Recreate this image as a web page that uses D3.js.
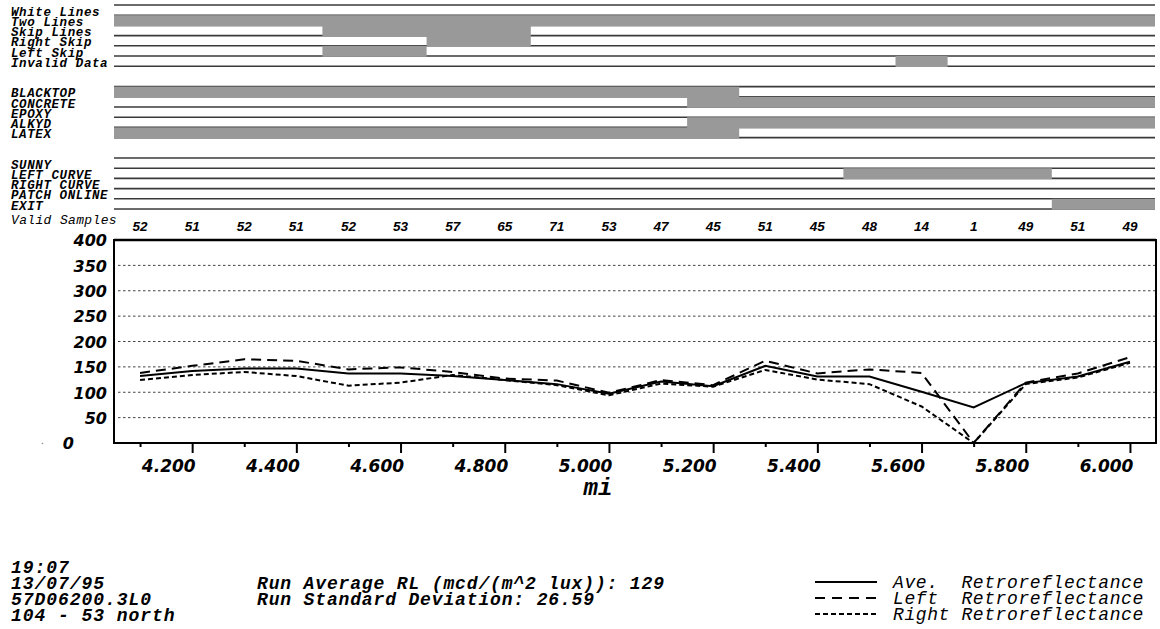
<!DOCTYPE html>
<html>
<head>
<meta charset="utf-8">
<script src="https://cdn.jsdelivr.net/npm/d3@7"></script>
<style>
html, body { margin: 0; padding: 0; background: #fff; }
svg { display: block; }
</style>
</head>
<body>
<div id="chart"></div>
<script>
// ---------- data ----------
const miles = [4.1, 4.2, 4.3, 4.4, 4.5, 4.6, 4.7, 4.8, 4.9, 5.0,
               5.1, 5.2, 5.3, 5.4, 5.5, 5.6, 5.7, 5.8, 5.9, 6.0];
const validSamples = [52, 51, 52, 51, 52, 53, 57, 65, 71, 53, 47, 45, 51, 45, 48, 14, 1, 49, 51, 49];
const aveRL   = [132, 142, 147, 147, 137, 137, 132, 124, 116, 97, 121, 112, 152, 131, 131, 101, 70, 118, 131, 160];
const leftRL  = [138, 152, 165, 162, 145, 149, 140, 127, 123, 99, 124, 114, 162, 137, 145, 138, 0, 119, 137, 169];
const rightRL = [124, 134, 140, 132, 113, 119, 134, 124, 114, 94, 117, 111, 144, 125, 116, 72, 0, 116, 129, 158];

const yTicks = [0, 50, 100, 150, 200, 250, 300, 350, 400];
const xMajorTicks = [4.2, 4.4, 4.6, 4.8, 5.0, 5.2, 5.4, 5.6, 5.8, 6.0];
const xMinorTicks = [4.1, 4.3, 4.5, 4.7, 4.9, 5.1, 5.3, 5.5, 5.7, 5.9];

const lineRows = ["White Lines", "Two Lines", "Skip Lines", "Right Skip", "Left Skip", "Invalid Data"];
const surfaceRows = ["BLACKTOP", "CONCRETE", "EPOXY", "ALKYD", "LATEX"];
const conditionRows = ["SUNNY", "LEFT CURVE", "RIGHT CURVE", "PATCH ONLINE", "EXIT"];

// mileage spans where a status flag is on
const eventSpans = [
    { row: "Two Lines",    from: 4.05, to: 6.05 },
    { row: "Skip Lines",   from: 4.45, to: 4.85 },
    { row: "Right Skip",   from: 4.65, to: 4.85 },
    { row: "Left Skip",    from: 4.45, to: 4.65 },
    { row: "Invalid Data", from: 5.55, to: 5.65 },
    { row: "BLACKTOP",     from: 4.05, to: 5.25 },
    { row: "CONCRETE",     from: 5.15, to: 6.05 },
    { row: "ALKYD",        from: 5.15, to: 6.05 },
    { row: "LATEX",        from: 4.05, to: 5.25 },
    { row: "LEFT CURVE",   from: 5.45, to: 5.85 },
    { row: "EXIT",         from: 5.85, to: 6.05 }
];

const infoLeft = ["19:07", "13/07/95", "57D06200.3L0", "104 - 53 north"];
const infoMid = ["Run Average RL (mcd/(m^2 lux)): 129", "Run Standard Deviation: 26.59"];
const legendNames = ["Ave.  Retroreflectance", "Left  Retroreflectance", "Right Retroreflectance"];

// ---------- setup ----------
const width = 1160, height = 629;
const mono = "'Liberation Mono', 'Courier New', monospace";
const sans = "'DejaVu Sans', Verdana, sans-serif";

const svg = d3.select("#chart").append("svg")
    .attr("width", width)
    .attr("height", height);

const x = d3.scaleLinear().domain([4.05, 6.05]).range([114, 1156]);
const y = d3.scaleLinear().domain([0, 400]).range([443, 240]);

// ---------- status strips ----------
const rowTop0 = 5, rowH = 10.2;
const groups = [
    { rows: lineRows, start: 0 },
    { rows: surfaceRows, start: 8 },
    { rows: conditionRows, start: 15 }
];
const rowY = {};
groups.forEach(g => g.rows.forEach((name, i) => { rowY[name] = rowTop0 + (g.start + i) * rowH; }));

const strip = svg.append("g");

groups.forEach(g => {
    const top = rowTop0 + g.start * rowH;
    const ys = [top].concat(g.rows.map(n => rowY[n] + rowH));
    strip.selectAll(null)
        .data(ys)
        .enter()
        .append("line")
        .attr("x1", x(4.05)).attr("x2", x(6.05) - 1)
        .attr("y1", d => d).attr("y2", d => d)
        .attr("stroke", "#3a3a3a")
        .attr("stroke-width", 1.6);
});

strip.selectAll("rect.flag")
    .data(eventSpans)
    .enter()
    .append("rect")
    .attr("class", "flag")
    .attr("x", d => x(d.from))
    .attr("width", d => Math.min(x(d.to), 1155) - x(d.from))
    .attr("y", d => rowY[d.row])
    .attr("height", rowH + 0.8)
    .attr("fill", "#999999");

const allRows = lineRows.concat(surfaceRows, conditionRows);
strip.selectAll("text.rowlabel")
    .data(allRows)
    .enter()
    .append("text")
    .attr("class", "rowlabel")
    .attr("x", 11)
    .attr("y", d => rowY[d] + rowH + 0.5)
    .style("font-family", mono)
    .style("font-size", "12.5px")
    .style("letter-spacing", "0.6px")
    .style("font-style", "italic")
    .style("font-weight", "bold")
    .style("fill", "#000")
    .text(d => d);

// valid samples row
svg.append("text")
    .attr("x", 11).attr("y", 224)
    .style("font-family", mono)
    .style("font-size", "13px")
    .style("letter-spacing", "0.35px")
    .style("font-style", "italic")
    .style("fill", "#000")
    .text("Valid Samples");

svg.selectAll("text.count")
    .data(validSamples)
    .enter()
    .append("text")
    .attr("class", "count")
    .attr("x", (d, i) => x(miles[i]))
    .attr("y", 231)
    .attr("text-anchor", "middle")
    .style("font-family", "'Liberation Sans', Arial, sans-serif")
    .style("font-size", "13.5px")
    .style("font-style", "italic")
    .style("font-weight", "bold")
    .text(d => d);

// ---------- plot ----------
const plot = svg.append("g");

// dotted grid
plot.selectAll("line.grid")
    .data(yTicks.filter(t => t > 0 && t < 400))
    .enter()
    .append("line")
    .attr("class", "grid")
    .attr("x1", 118).attr("x2", 1155)
    .attr("y1", d => y(d)).attr("y2", d => y(d))
    .attr("stroke", "#444")
    .attr("stroke-width", 1)
    .attr("stroke-dasharray", "2.5,2.5");

// y labels
const yAxis = plot.append("g")
    .attr("transform", "translate(107,0)")
    .call(d3.axisLeft(y).tickValues(yTicks).tickSize(0).tickPadding(0));
yAxis.select(".domain").remove();
yAxis.selectAll("text")
    .attr("dy", "0.36em")
    .style("font-family", sans)
    .style("font-size", "16px")
    .style("font-style", "italic")
    .style("font-weight", "bold")
    .style("fill", "#000")
    .filter(d => d === 0)
    .attr("x", -33);

svg.append("circle").attr("cx", 42.5).attr("cy", 443.5).attr("r", 0.8).attr("fill", "#888");

// x axis: minor + major ticks
const xMinor = plot.append("g")
    .attr("transform", "translate(0,443)")
    .call(d3.axisBottom(x).tickValues(xMinorTicks).tickSize(4).tickFormat(""));
xMinor.select(".domain").remove();
xMinor.selectAll("line").attr("stroke", "#000").attr("stroke-width", 2);

const xMajor = plot.append("g")
    .attr("transform", "translate(0,443)")
    .call(d3.axisBottom(x).tickValues(xMajorTicks).tickSize(10).tickFormat(d3.format(".3f")));
xMajor.select(".domain").remove();
xMajor.selectAll("line").attr("stroke", "#000").attr("stroke-width", 2);
xMajor.selectAll("text")
    .attr("y", 29)
    .attr("dy", 0)
    .attr("dx", 3)
    .attr("text-anchor", "end")
    .style("font-family", sans)
    .style("font-size", "17px")
    .style("font-style", "italic")
    .style("font-weight", "bold")
    .style("fill", "#000");

svg.append("text")
    .attr("x", 598).attr("y", 495)
    .attr("text-anchor", "middle")
    .style("font-family", mono)
    .style("font-size", "24px")
    .style("font-style", "italic")
    .style("font-weight", "bold")
    .text("mi");

// frame
plot.append("rect")
    .attr("x", x(4.05)).attr("y", y(400))
    .attr("width", x(6.05) - x(4.05))
    .attr("height", y(0) - y(400))
    .attr("fill", "none")
    .attr("stroke", "#000")
    .attr("stroke-width", 2);
plot.append("line")
    .attr("x1", x(4.05)).attr("x2", x(6.05))
    .attr("y1", y(400)).attr("y2", y(400))
    .attr("stroke", "#000").attr("stroke-width", 2.6);

// series
const series = [
    { values: aveRL, dash: null },
    { values: leftRL, dash: "10,6" },
    { values: rightRL, dash: "5,3" }
];
const line = d3.line()
    .x(d => x(d[0]))
    .y(d => y(d[1]));

plot.selectAll("path.series")
    .data(series)
    .enter()
    .append("path")
    .attr("class", "series")
    .attr("d", s => line(s.values.map((v, i) => [miles[i], v])))
    .attr("fill", "none")
    .attr("stroke", "#000")
    .attr("stroke-width", 2)
    .attr("stroke-dasharray", s => s.dash);

// ---------- footer ----------
const footStyle = sel => sel
    .style("font-family", mono)
    .style("font-size", "18px")
    .style("font-style", "italic")
    .style("white-space", "pre")
    .style("fill", "#000");

svg.selectAll("text.infoLeft")
    .data(infoLeft)
    .enter()
    .append("text")
    .attr("class", "infoLeft")
    .attr("x", 11)
    .attr("y", (d, i) => 572.5 + i * 16)
    .style("letter-spacing", "0.95px")
    .style("font-weight", "bold")
    .call(footStyle)
    .text(d => d);

svg.selectAll("text.infoMid")
    .data(infoMid)
    .enter()
    .append("text")
    .attr("class", "infoMid")
    .attr("x", 257)
    .attr("y", (d, i) => 588.5 + i * 16)
    .style("letter-spacing", "0.85px")
    .style("font-weight", "bold")
    .call(footStyle)
    .text(d => d);

const legend = svg.append("g");
const legendDash = [null, "10,7", "5,3"];
legendNames.forEach((name, i) => {
    const ly = 582 + i * 16;
    legend.append("line")
        .attr("x1", 815).attr("x2", 877)
        .attr("y1", ly).attr("y2", ly)
        .attr("stroke", "#000")
        .attr("stroke-width", 2)
        .attr("stroke-dasharray", legendDash[i]);
    legend.append("text")
        .attr("x", 893).attr("y", ly + 5.5)
        .style("letter-spacing", "0.6px")
        .call(footStyle)
        .text(name);
});
</script>
</body>
</html>
